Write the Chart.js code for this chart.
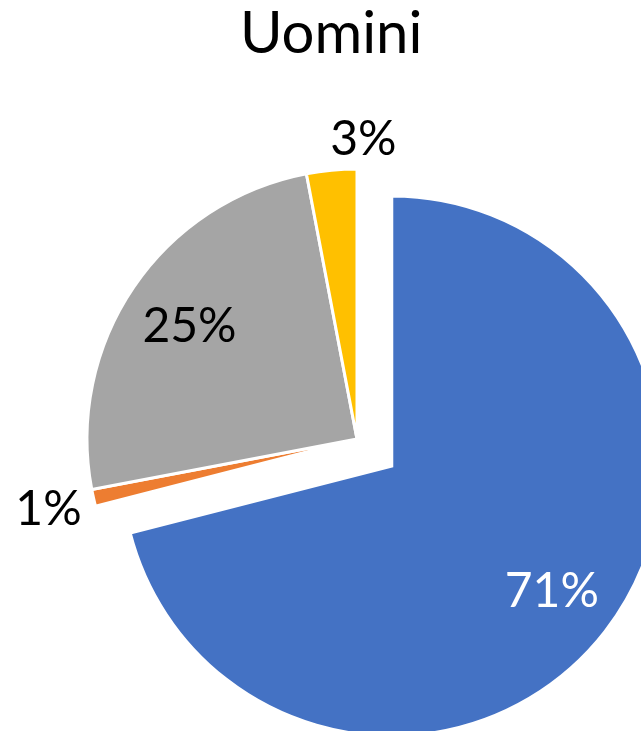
<!DOCTYPE html>
<html>
<head>
<meta charset="utf-8">
<script src="https://cdn.jsdelivr.net/npm/chart.js@4/dist/chart.umd.min.js"></script>
<style>
  html, body { margin: 0; padding: 0; background: #ffffff; overflow: hidden; }
  #chart { display: block; }
</style>
</head>
<body>
<canvas id="chart" width="641" height="731"></canvas>
<script>
// Chart data
const chartTitle = 'Uomini';
const categories = ['Categoria 1', 'Categoria 2', 'Categoria 3', 'Categoria 4'];
const shares = [71, 1, 25, 3];
const sliceColors = ['#4472C4', '#ED7D31', '#A5A5A5', '#FFC000'];
const labelColors = ['#FFFFFF', '#000000', '#000000', '#000000'];

const FONT = 'Lato, "Open Sans", sans-serif';

// Pulls selected slices out along their mid-angle without enlarging them
const explodeSlices = {
  id: 'explodeSlices',
  beforeDatasetDraw(chart, args, opts) {
    const ctx = chart.ctx;
    args.meta.data.forEach((arc, i) => {
      const d = opts.distances[i] || 0;
      const mid = (arc.startAngle + arc.endAngle) / 2;
      ctx.save();
      ctx.translate(Math.cos(mid) * d, Math.sin(mid) * d);
      arc.draw(ctx);
      ctx.restore();
    });
    return false;
  }
};

// Percentage labels: large slices inside, small slices just outside the rim.
// Outside labels near the top/bottom start at the rim point and sit above/below it;
// those on the sides are pushed out radially clear of the rim.
const sliceLabels = {
  id: 'sliceLabels',
  afterDatasetsDraw(chart, args, opts) {
    const ctx = chart.ctx;
    const meta = chart.getDatasetMeta(0);
    const values = chart.data.datasets[0].data;
    const total = values.reduce((a, b) => a + b, 0);
    const shifts = chart.options.plugins.explodeSlices.distances;
    const size = opts.size;
    const capH = size * 0.7165;
    ctx.save();
    ctx.font = `${size}px ${FONT}`;
    ctx.textBaseline = 'alphabetic';
    meta.data.forEach((arc, i) => {
      const p = arc.getProps(['x', 'y', 'startAngle', 'endAngle', 'outerRadius'], true);
      const mid = (p.startAngle + p.endAngle) / 2;
      const cos = Math.cos(mid), sin = Math.sin(mid);
      const shift = shifts[i] || 0;
      const cx = p.x + cos * shift;
      const cy = p.y + sin * shift;
      const frac = values[i] / total;
      const text = Math.round(frac * 100) + '%';
      ctx.fillStyle = labelColors[i];
      if (frac >= 0.1) {
        const d = p.outerRadius * opts.insideRatio;
        ctx.textAlign = 'center';
        ctx.fillText(text, cx + cos * d, cy + sin * d + capH / 2);
      } else if (Math.abs(cos) < 0.5) {
        const d = p.outerRadius + opts.topGap;
        const bx = cx + cos * d;
        const by = cy + sin * d;
        ctx.textAlign = 'left';
        ctx.fillText(text, bx, sin < 0 ? by : by + capH);
      } else {
        const w = ctx.measureText(text).width;
        const d = p.outerRadius + opts.sideGap +
          Math.abs(cos) * w / 2 + Math.abs(sin) * capH / 2;
        ctx.textAlign = 'center';
        ctx.fillText(text, cx + cos * d, cy + sin * d + capH / 2);
      }
    });
    ctx.restore();
  }
};

new Chart(document.getElementById('chart'), {
  type: 'pie',
  data: {
    labels: categories,
    datasets: [{
      data: shares,
      backgroundColor: sliceColors,
      borderColor: '#FFFFFF',
      borderWidth: 3,
      borderJoinStyle: 'miter',
      radius: 270
    }]
  },
  options: {
    responsive: false,
    animation: false,
    events: [],
    layout: { padding: { left: 240, right: 167, top: 0, bottom: 0 } },
    plugins: {
      legend: { display: false },
      tooltip: { enabled: false },
      title: {
        display: true,
        text: chartTitle,
        align: 'start',
        color: '#000000',
        font: { family: FONT, size: 58, weight: 'normal', lineHeight: 1 },
        padding: { top: 5, bottom: 84 }
      },
      explodeSlices: { distances: [44, 0, 0, 0] },
      sliceLabels: { size: 48, insideRatio: 0.75, sideGap: 10, topGap: 15 }
    }
  },
  plugins: [explodeSlices, sliceLabels]
});
</script>
</body>
</html>
